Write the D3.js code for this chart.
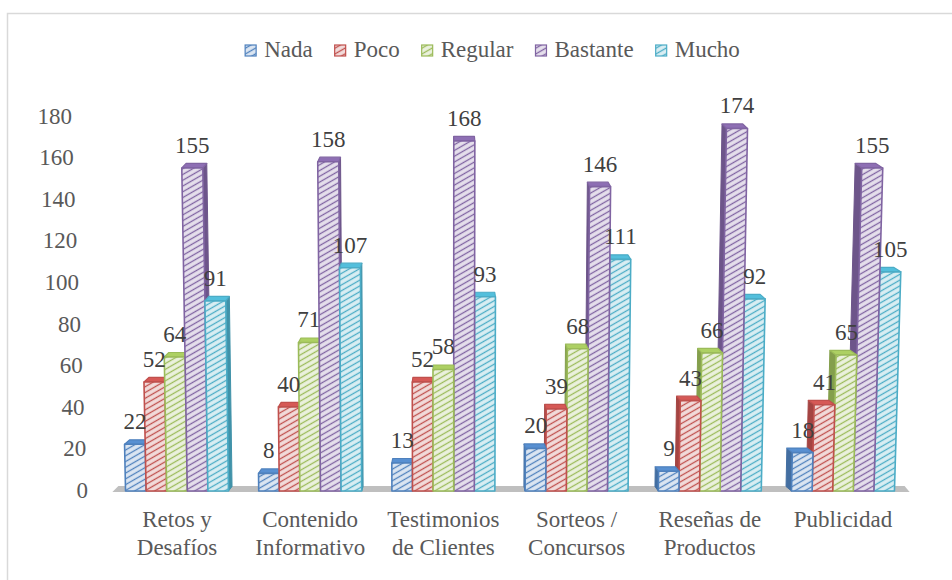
<!DOCTYPE html>
<html>
<head>
<meta charset="utf-8">
<script src="https://cdn.jsdelivr.net/npm/d3@7"></script>
<style>
  body { margin: 0; background: #ffffff; }
  svg { display: block; }
</style>
</head>
<body>
<svg id="chart" width="952" height="580"></svg>
<script>
// Categories (multi-line labels split on \n)
const categories = [
  "Retos y\nDesafíos",
  "Contenido\nInformativo",
  "Testimonios\nde Clientes",
  "Sorteos /\nConcursos",
  "Reseñas de\nProductos",
  "Publicidad"
];

const seriesNames = ["Nada", "Poco", "Regular", "Bastante", "Mucho"];

// Values per series, one per category
const nada     = [22, 8, 13, 20, 9, 18];
const poco     = [52, 40, 52, 39, 43, 41];
const regular  = [64, 71, 58, 68, 66, 65];
const bastante = [155, 158, 168, 146, 174, 155];
const mucho    = [91, 107, 93, 111, 92, 105];

const yTicks = [0, 20, 40, 60, 80, 100, 120, 140, 160, 180];

const seriesValues = [nada, poco, regular, bastante, mucho];
const seriesColors = ["#4F81BD", "#C0504D", "#9BBB59", "#8064A2", "#4BACC6"];
const seriesTints  = ["#DCE6F2", "#F2DCDB", "#EBF1DE", "#E6E0EC", "#DAEEF3"];

const FONT = "'Liberation Serif', 'Times New Roman', Tinos";
// apply the serif face directly on every text node
const serif = sel => sel.style("font-family", FONT, "important");

const svg = d3.select("#chart");

// Chart frame
svg.append("rect")
  .attr("x", 7.5).attr("y", 13.5)
  .attr("width", 1000).attr("height", 700)
  .attr("fill", "none")
  .attr("stroke", "#D9D9D9")
  .attr("stroke-width", 1.5);

// Scales
const x0 = d3.scaleBand()
  .domain(categories)
  .range([110.4, 909.6])
  .paddingInner(0.227)
  .paddingOuter(0.1135);

const x1 = d3.scaleBand()
  .domain(seriesNames)
  .range([0, x0.bandwidth()]);

const y = d3.scaleLinear().domain([0, 180]).range([490, 116]);

// Simple perspective: verticals fan out slightly from a centre line,
// and the box depth recedes towards it.
const VX = 450, LEAN = 6.5e-5, DEPTH_X = 0.016, DEPTH_Y = 4.5;
const lean = (px, py) => px + (px - VX) * (y(0) - py) * LEAN;
const back = p => [p[0] + (VX - p[0]) * DEPTH_X, p[1] - DEPTH_Y];

// Hatch patterns
const defs = svg.append("defs");
seriesNames.forEach((s, i) => {
  const p = defs.append("pattern")
    .attr("id", "hatch" + i)
    .attr("patternUnits", "userSpaceOnUse")
    .attr("width", 8).attr("height", 5)
    .attr("patternTransform", "rotate(-30)");
  p.append("rect").attr("width", 8).attr("height", 5).attr("fill", seriesTints[i]);
  p.append("line")
    .attr("x1", 0).attr("x2", 8).attr("y1", 2.5).attr("y2", 2.5)
    .attr("stroke", seriesColors[i]).attr("stroke-width", 1.3);
});

// Floor
const floorL = x0.range()[0], floorR = x0.range()[1];
svg.append("polygon")
  .attr("points", [[floorL + 2, y(0) + 2], [floorR, y(0) + 2], [floorR - 5, y(0) - 4], [floorL + 8, y(0) - 4]].join(" "))
  .attr("fill", "#BFBFBF");

// Bars
const bars = [];
categories.forEach((c, ci) => {
  seriesNames.forEach((s, si) => {
    const xl = x0(c) + x1(s);
    const xr = xl + x1.bandwidth();
    bars.push({ ci, si, v: seriesValues[si][ci], xl, xr, xc: (xl + xr) / 2 });
  });
});
bars.sort((a, b) => Math.abs(b.xc - VX) - Math.abs(a.xc - VX));

const line = pts => "M" + pts.map(p => p.join(",")).join("L") + "Z";
const barG = svg.append("g");

bars.forEach(b => {
  const col = seriesColors[b.si];
  const dark = d3.color(col).darker(0.45).formatHex();
  const yb = y(0) + 1, yt = y(b.v);
  const bl = [lean(b.xl, yb), yb], br = [lean(b.xr, yb), yb];
  const tl = [lean(b.xl, yt), yt], tr = [lean(b.xr, yt), yt];
  const g = barG.append("g");

  // side face towards the centre line
  const side = b.xc < VX ? [br, tr, back(tr), back(br)] : [bl, tl, back(tl), back(bl)];
  g.append("path").attr("d", line(side))
    .attr("fill", dark).attr("stroke", dark).attr("stroke-width", 1)
    .attr("stroke-linejoin", "round");

  // top face
  g.append("path").attr("d", line([tl, tr, back(tr), back(tl)]))
    .attr("fill", d3.color(col).brighter(0.3).formatHex())
    .attr("stroke", col).attr("stroke-width", 1.2)
    .attr("stroke-linejoin", "round");

  // front face
  g.append("path").attr("d", line([bl, br, tr, tl]))
    .attr("fill", `url(#hatch${b.si})`)
    .attr("stroke", col).attr("stroke-width", 1.6)
    .attr("stroke-linejoin", "round");
});

// Data labels
svg.append("g").selectAll("text")
  .data(bars)
  .join("text")
  .attr("x", b => lean(b.xc, y(b.v)))
  .attr("y", b => y(b.v) - 15)
  .attr("text-anchor", "middle")
  .attr("font-size", 23)
  .attr("fill", "#404040")
  .text(b => b.v)
  .call(serif);

// Value axis (labels only, following the perspective slant)
const yAxis = svg.append("g")
  .call(d3.axisLeft(y).tickValues(yTicks).tickSize(0).tickPadding(0));
yAxis.select(".domain").remove();
yAxis.selectAll(".tick")
  .attr("transform", d => `translate(${88 - 16 * d / 180},${y(d)})`);
yAxis.selectAll(".tick text")
  .attr("font-size", 23)
  .attr("fill", "#595959")
  .attr("x", 0)
  .attr("dy", "0.34em")
  .call(serif);

// Category axis with wrapped labels
const xAxis = svg.append("g")
  .attr("transform", "translate(0,527)")
  .call(d3.axisBottom(x0).tickSize(0).tickPadding(0));
xAxis.select(".domain").remove();
xAxis.selectAll(".tick text")
  .attr("font-size", 23)
  .attr("fill", "#595959")
  .attr("y", 0).attr("dy", null)
  .call(serif)
  .each(function (d) {
    const t = d3.select(this);
    t.text(null);
    d.split("\n").forEach((ln, i) => {
      t.append("tspan").attr("x", 0).attr("dy", i === 0 ? 0 : 28).text(ln).call(serif);
    });
  });

// Legend
const legend = svg.append("g");
const items = legend.selectAll("g").data(seriesNames).join("g");
items.append("rect")
  .attr("width", 11).attr("height", 11)
  .attr("y", -12)
  .attr("fill", (d, i) => `url(#hatch${i})`)
  .attr("stroke", (d, i) => seriesColors[i])
  .attr("stroke-width", 1.2);
items.append("text")
  .attr("x", 19)
  .attr("y", 0)
  .attr("font-size", 23)
  .attr("fill", "#595959")
  .text(d => d)
  .call(serif);
let lx = 0;
items.each(function () {
  const w = 19 + d3.select(this).select("text").node().getComputedTextLength();
  d3.select(this).attr("transform", `translate(${lx},0)`);
  lx += w + 22;
});
const legendW = lx - 22;
legend.attr("transform", `translate(${492.5 - legendW / 2},57)`);
</script>
</body>
</html>
